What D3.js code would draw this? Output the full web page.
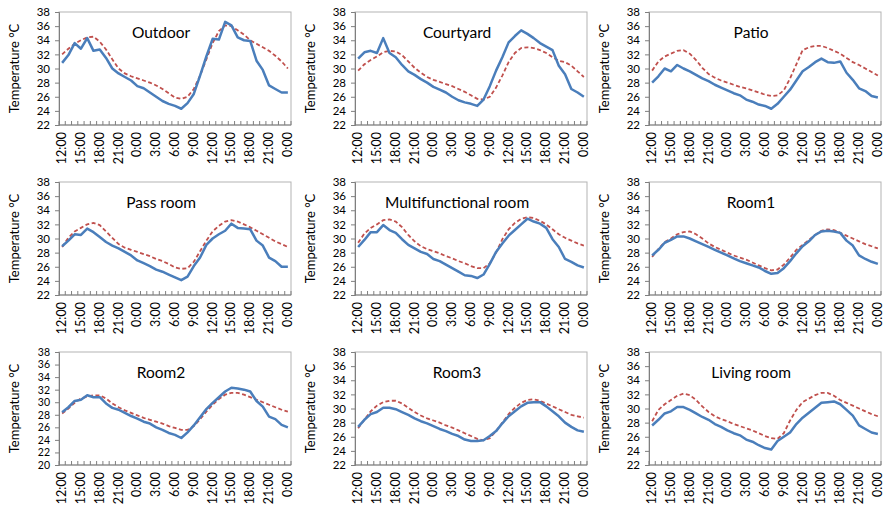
<!DOCTYPE html>
<html>
<head>
<meta charset="utf-8">
<script src="https://d3js.org/d3.v7.min.js"></script>
<style>
  body { margin: 0; background: #fff; }
  text { font-family: Lato, "Open Sans", sans-serif; fill: #000; }
</style>
</head>
<body>
<svg width="886" height="510"></svg>
<script>
// hours on the x axis, 12:00 day one to 0:00 day three
const hours = d3.range(37).map(i => ((12 + i) % 24) + ":00");
const shownLabels = new Set(d3.range(0, 37, 3));

const titles = ["Outdoor", "Courtyard", "Patio", "Pass room", "Multifunctional room",
                "Room1", "Room2", "Room3", "Living room"];
const yMins = [22, 22, 22, 22, 22, 22, 20, 22, 22];

// measured (blue solid)
const measured = [
  [30.8,31.9,33.6,32.8,34.3,32.5,32.7,31.5,30.0,29.3,28.8,28.3,27.5,27.2,26.6,26.0,25.4,25.0,24.7,24.3,25.1,26.4,29.0,31.7,34.2,34.1,36.6,36.1,34.4,34.0,33.9,31.1,29.8,27.6,27.1,26.6,26.6],
  [31.4,32.3,32.5,32.2,34.3,32.2,31.6,30.5,29.6,29.1,28.5,28.0,27.4,27.0,26.6,26.0,25.5,25.2,25.0,24.7,25.6,27.5,29.7,31.6,33.7,34.6,35.4,34.9,34.3,33.6,33.1,32.6,30.4,29.2,27.1,26.6,26.0],
  [28.0,28.9,30.0,29.6,30.5,30.0,29.6,29.1,28.6,28.2,27.7,27.3,26.9,26.5,26.2,25.6,25.3,24.9,24.7,24.3,25.0,26.0,27.0,28.3,29.6,30.2,30.9,31.4,30.9,30.8,31.0,29.4,28.4,27.2,26.8,26.1,25.9],
  [28.9,29.7,30.6,30.5,31.4,30.9,30.2,29.5,29.0,28.6,28.1,27.6,26.9,26.5,26.1,25.6,25.3,24.9,24.5,24.1,24.6,26.1,27.3,29.1,30.0,30.6,31.1,32.1,31.5,31.4,31.3,29.7,29.0,27.3,26.8,26.0,26.0],
  [28.8,29.8,30.9,30.9,31.9,31.2,30.8,29.9,29.1,28.6,28.1,27.8,27.1,26.8,26.3,25.8,25.3,24.8,24.7,24.4,24.9,26.4,28.1,29.3,30.4,31.2,32.0,32.8,32.4,32.1,31.5,29.9,28.8,27.1,26.7,26.2,25.9],
  [27.6,28.4,29.4,29.8,30.3,30.3,30.0,29.6,29.2,28.8,28.4,28.0,27.6,27.2,26.8,26.5,26.2,25.9,25.4,25.0,25.1,25.8,26.8,27.9,28.9,29.6,30.5,31.0,31.1,31.0,30.8,29.7,29.0,27.6,27.1,26.7,26.4],
  [28.4,29.2,30.2,30.4,31.1,30.8,30.8,29.8,29.1,28.8,28.3,27.8,27.4,26.9,26.6,26.0,25.6,25.1,24.8,24.3,25.2,26.3,27.6,28.9,29.9,30.8,31.7,32.3,32.2,32.0,31.7,30.2,29.3,27.7,27.3,26.4,26.0],
  [27.4,28.4,29.2,29.5,30.1,30.1,29.9,29.5,29.1,28.6,28.2,27.9,27.5,27.1,26.8,26.4,26.1,25.6,25.4,25.4,25.5,26.1,26.8,27.9,28.9,29.6,30.3,30.8,30.9,30.9,30.3,29.6,28.9,28.0,27.4,26.9,26.7],
  [27.6,28.4,29.3,29.6,30.2,30.2,29.8,29.3,28.8,28.4,27.8,27.4,26.9,26.5,26.2,25.6,25.3,24.8,24.4,24.2,25.4,26.0,26.6,27.8,28.7,29.4,30.1,30.8,30.9,31.0,30.6,29.8,29.0,27.6,27.1,26.6,26.4]
];

// simulated (red dashed)
const simulated = [
  [32.0,32.8,33.5,34.0,34.4,34.5,33.8,32.7,31.3,30.0,29.3,28.9,28.6,28.3,28.0,27.6,27.1,26.5,25.9,25.7,26.0,27.1,29.0,31.3,33.6,35.3,36.1,36.0,35.4,34.8,34.0,33.5,33.0,32.5,31.8,31.0,30.0],
  [29.7,30.6,31.2,31.7,32.3,32.5,32.4,31.9,31.0,30.1,29.4,28.8,28.4,28.1,27.8,27.5,27.1,26.7,26.2,25.7,25.6,26.0,27.3,29.0,30.9,32.2,32.9,33.0,32.9,32.6,32.2,31.6,31.1,30.9,30.4,29.6,28.8],
  [29.7,31.0,31.7,32.1,32.5,32.6,32.1,31.2,30.1,29.2,28.7,28.3,28.0,27.7,27.4,27.2,26.9,26.6,26.3,26.1,26.2,26.9,28.6,30.6,32.6,33.0,33.2,33.2,32.9,32.5,32.1,31.5,30.9,30.5,30.0,29.5,29.0],
  [28.8,30.1,31.0,31.5,32.0,32.2,31.9,31.0,30.1,29.2,28.7,28.4,28.1,27.8,27.5,27.1,26.8,26.4,25.9,25.7,25.8,26.7,28.2,29.7,31.0,31.8,32.4,32.6,32.4,32.0,31.6,31.1,30.6,30.1,29.6,29.2,28.8],
  [29.4,30.7,31.5,32.0,32.6,32.7,32.4,31.6,30.5,29.6,28.9,28.5,28.2,27.9,27.5,27.2,26.8,26.5,26.1,25.8,25.8,26.5,28.0,29.9,31.3,32.2,32.8,33.0,32.9,32.5,32.0,31.3,30.6,30.1,29.7,29.3,29.0],
  [27.4,28.5,29.5,30.0,30.6,30.9,31.0,30.6,30.0,29.3,28.8,28.4,28.0,27.6,27.3,27.0,26.6,26.2,25.8,25.5,25.6,26.3,27.3,28.4,29.1,29.8,30.5,31.1,31.3,31.2,30.8,30.4,30.0,29.6,29.2,28.9,28.6],
  [28.2,29.0,29.9,30.6,30.9,31.1,31.1,30.6,29.8,29.2,28.7,28.3,27.9,27.5,27.2,26.9,26.6,26.2,25.9,25.6,25.6,26.2,27.3,28.5,29.6,30.5,31.2,31.5,31.5,31.2,30.8,30.4,30.0,29.6,29.2,28.8,28.5],
  [27.2,28.4,29.6,30.4,30.9,31.1,31.1,30.7,30.1,29.5,29.0,28.6,28.3,28.0,27.6,27.3,26.9,26.5,26.1,25.7,25.5,25.8,26.8,28.0,29.2,30.1,30.8,31.2,31.3,31.1,30.7,30.3,29.9,29.5,29.1,28.9,28.7],
  [28.2,29.8,30.6,31.2,31.8,32.1,31.9,31.2,30.3,29.5,28.9,28.5,28.2,27.8,27.5,27.2,26.9,26.5,26.1,25.8,25.7,26.5,28.3,29.8,30.9,31.4,31.9,32.2,32.2,31.8,31.2,30.8,30.4,30.0,29.6,29.2,28.9]
];

const svg = d3.select("svg");

const PLOT_W = 232,
      PLOT_H = 113;
const colLeft = [59, 355, 649];
const rowTop = [12, 182, 352];

function drawPanel(k) {
    const left = colLeft[k % 3],
          top = rowTop[Math.floor(k / 3)];

    const g = svg.append("g")
        .attr("transform", `translate(${left},${top})`);

    const x = d3.scaleBand()
        .domain(hours.map((h, i) => i))
        .range([0, PLOT_W]);

    const y = d3.scaleLinear()
        .domain([yMins[k], 38])
        .range([PLOT_H, 0]);

    // plot area frame
    g.append("rect")
        .attr("width", PLOT_W)
        .attr("height", PLOT_H)
        .attr("fill", "none")
        .attr("stroke", "#b3b3b3")
        .attr("stroke-width", 1);

    // y axis
    const yAxis = g.append("g")
        .call(d3.axisLeft(y)
            .tickValues(d3.range(yMins[k], 39, 2))
            .tickSize(4)
            .tickPadding(5));
    yAxis.select(".domain").attr("stroke", "#7f7f7f");
    yAxis.selectAll(".tick line").attr("stroke", "#7f7f7f");
    yAxis.selectAll("text")
        .attr("font-size", yMins[k] < 22 ? 10.5 : 11.5)
        .attr("font-family", "Lato, sans-serif");

    // x axis, ticks between categories pointing inside
    const xg = g.append("g")
        .attr("transform", `translate(0,${PLOT_H})`);
    xg.append("line")
        .attr("x1", 0).attr("x2", PLOT_W)
        .attr("stroke", "#7f7f7f");
    xg.selectAll("line.tk")
        .data(d3.range(38))
        .enter().append("line")
        .attr("class", "tk")
        .attr("x1", d => d * x.bandwidth())
        .attr("x2", d => d * x.bandwidth())
        .attr("y1", 0)
        .attr("y2", -4)
        .attr("stroke", "#7f7f7f");
    xg.selectAll("text")
        .data(hours.map((h, i) => i).filter(i => shownLabels.has(i)))
        .enter().append("text")
        .attr("transform", d => `translate(${x(d) + x.bandwidth() / 2 + 4},7) rotate(-90)`)
        .attr("text-anchor", "end")
        .attr("font-size", 12.5)
        .text(d => hours[d]);

    const line = d3.line()
        .x((d, i) => x(i) + x.bandwidth() / 2)
        .y(d => y(d));

    g.append("path")
        .datum(simulated[k])
        .attr("d", line)
        .attr("fill", "none")
        .attr("stroke", "#c0504d")
        .attr("stroke-width", 1.8)
        .attr("stroke-dasharray", "4,2.5");

    g.append("path")
        .datum(measured[k])
        .attr("d", line)
        .attr("fill", "none")
        .attr("stroke", "#4a7ebb")
        .attr("stroke-width", 2.5)
        .attr("stroke-linejoin", "round");

    // panel title
    g.append("text")
        .attr("x", PLOT_W * 0.44)
        .attr("y", 26)
        .attr("text-anchor", "middle")
        .attr("font-size", 15.5)
        .text(titles[k]);

    // y axis title
    g.append("text")
        .attr("transform", `translate(${-40},${PLOT_H / 2}) rotate(-90)`)
        .attr("text-anchor", "middle")
        .attr("font-size", 13)
        .text("Temperature °C");
}

for (let k = 0; k < 9; k++) {
    drawPanel(k);
}
</script>
</body>
</html>
